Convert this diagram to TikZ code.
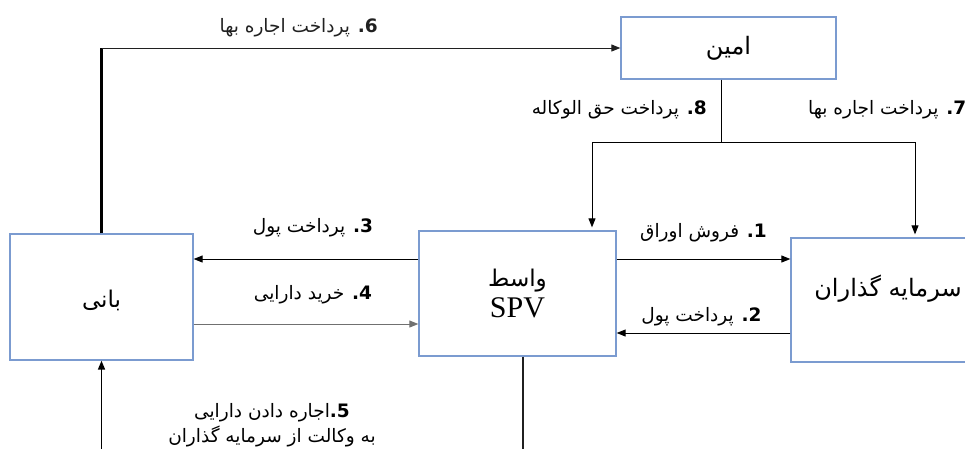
\documentclass[tikz,border=0pt]{standalone}
\usepackage{fontspec}
\setmainfont{Liberation Serif}
\newfontfamily\farsi[Script=Arabic]{DejaVu Sans}
\TeXXeTstate=1
\usetikzlibrary{arrows.meta, positioning, calc}
\definecolor{BoxBlue}  {HTML}{7B9BD0}
\definecolor{LineDark} {HTML}{202020}
\definecolor{LineGray} {HTML}{707070}
\newcommand{\fa}[1]{\beginR #1\endR}
\newcommand{\num}[1]{\textbf{#1}\kern0pt\textbf{.}}

\begin{document}
\begin{tikzpicture}[x=1pt, y=-1pt,
  every node/.style={font=\fontsize{18.5}{25}\farsi},
  box/.style={draw=BoxBlue, line width=1.3pt, inner sep=0pt},
  lbl/.style={inner sep=1pt},
  arr/.style={-{Triangle[length=9pt, width=7pt]}, line width=0.9pt},
  thickline/.style={line width=2.2pt},
]
  \useasboundingbox (0,0) rectangle (965,448);
  \clip (0,0) rectangle (965,448);

  % boxes
  \node[box, minimum width=215pt, minimum height=62pt,
        font=\fontsize{24}{28}\farsi] (amin) at (728.5,48) {\fa{امین}};
  \node[box, minimum width=183pt, minimum height=126pt,
        text height=24pt, text depth=4pt,
        font=\fontsize{23}{28}\farsi] (bani) at (101.5,297) {\fa{بانی}};
  \node[box, minimum width=197pt, minimum height=125pt, align=center,
        font=\fontsize{23}{31}\farsi] (spv) at (517.5,293.5)
        {\fa{واسط}\\{\fontsize{30}{31}\selectfont\rmfamily SPV}};
  \node[box, minimum width=194pt, minimum height=124pt,
        text height=18pt, text depth=26pt,
        font=\fontsize{24}{28}\farsi] (sarm) at (888,300) {\fa{سرمایه گذاران}};

  % 6
  \coordinate (c6) at (bani.north |- amin.west);
  \draw[thickline] (bani.north) -- (c6);
  \draw[arr, LineDark] (c6) -- (amin.west)
    node[lbl, pos=0.38, yshift=20pt] (l6) {\fa{\num{6} پرداخت اجاره بها}};

  % 7 / 8
  \coordinate (split) at (721,142);
  \coordinate (lft) at (592,142);
  \coordinate (rgt) at (915,142);
  \draw[line width=0.9pt] (amin.south -| split) -- (split);
  \draw[line width=0.9pt] (lft) -- (rgt);
  \draw[arr, shorten >=3pt] (lft) -- (lft |- spv.north);
  \draw[arr, shorten >=3pt] (rgt) -- (rgt |- sarm.north);
  \node[lbl, anchor=east] (l8) at (708,110) {\fa{\num{8} پرداخت حق الوکاله}};
  \node[lbl, anchor=west] (l7) at (807,110) {\fa{\num{7} پرداخت اجاره بها}};

  % 1 / 2
  \coordinate (p1) at ([yshift=34.5pt]spv.east);
  \draw[arr] (p1) -- (p1 -| sarm.west)
    node[lbl, midway, yshift=26pt] (l1) {\fa{\num{1} فروش اوراق}};
  \coordinate (p2) at ([yshift=-33pt]sarm.west);
  \draw[arr] (p2) -- (p2 -| spv.east)
    node[lbl, midway, yshift=16pt, xshift=-2pt] (l2) {\fa{\num{2} پرداخت پول}};

  % 3 / 4
  \coordinate (p3) at ([yshift=34.5pt]spv.west);
  \draw[arr] (p3) -- (p3 -| bani.east)
    node[lbl, midway, yshift=31pt, xshift=7pt] (l3) {\fa{\num{3} پرداخت پول}};
  \coordinate (p4) at ([yshift=-27pt]bani.east);
  \draw[arr, LineGray] (p4) -- (p4 -| spv.west)
    node[lbl, midway, yshift=29pt, xshift=7pt, text=black] (l4) {\fa{\num{4} خرید دارایی}};

  % 5
  \coordinate (b5) at ([yshift=-130pt]bani.south);
  \draw[arr, line width=1.6pt] (b5) -- (bani.south);
  \node[lbl, align=center] (l5) at (272,425)
    {\fa{\num{5}اجاره دادن دارایی}\\\fa{به وکالت از سرمایه گذاران}};

  % SPV down
  \coordinate (s0) at ([xshift=5.5pt]spv.south);
  \draw[LineDark, line width=1.6pt] (s0) -- ++(0,130);
\end{tikzpicture}
\end{document}
